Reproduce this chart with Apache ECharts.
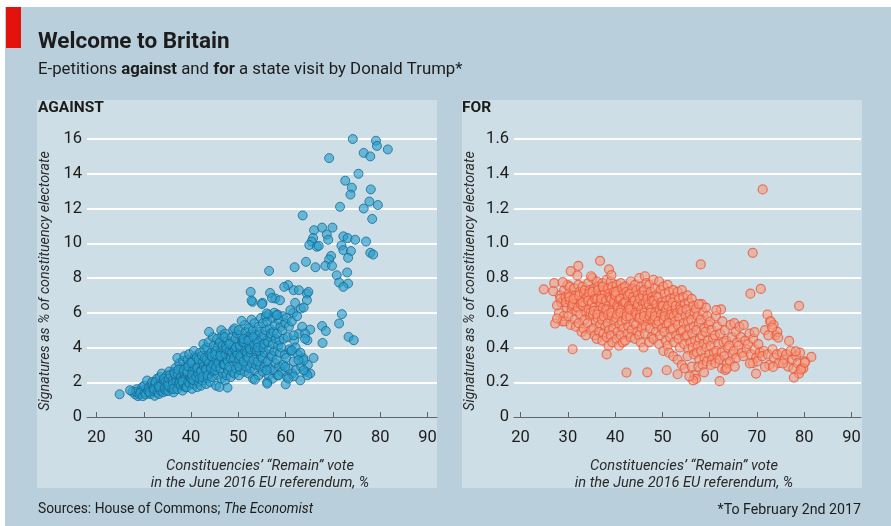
<!DOCTYPE html>
<html><head><meta charset="utf-8">
<script src="https://cdn.jsdelivr.net/npm/echarts@6/dist/echarts.min.js"></script>
<style>html,body{margin:0;padding:0;background:#fff}#c{width:891px;height:526px}</style>
</head><body><div id="c"></div><script>
const xTicks=[20,30,40,50,60,70,80,90];
const againstTicks=[0,2,4,6,8,10,12,14,16];
const forTicks=[0,0.2,0.4,0.6,0.8,1.0,1.2,1.4,1.6];

// AGAINST: [Remain vote %, signatures as % of electorate]
const againstSparse=[[74.2,16.0],[79.1,15.9],[79.3,15.6],[81.6,15.4],[69.2,14.9],[76.5,15.2],[77.9,15.0],[75.4,14.0],[72.6,13.6],[74.0,13.2],[73.7,12.8],[78.0,13.1],[71.5,12.1],[76.5,12.0],[77.7,12.4],[79.5,12.2],[78.3,11.4],[63.6,11.6],[67.7,10.9],[69.9,10.9],[66.0,10.75],[68.7,10.5],[65.8,10.3],[69.0,10.2],[72.2,10.4],[73.1,10.3],[74.7,10.2],[77.0,10.1],[65.5,10.1],[65.0,9.9],[66.6,9.8],[67.0,9.85],[71.8,9.87],[72.2,9.6],[73.8,9.55],[77.9,9.45],[78.5,9.35],[69.6,9.27],[69.2,9.07],[73.2,9.16],[64.3,8.93],[68.4,8.7],[69.8,8.7],[66.3,8.62],[61.9,8.62],[56.5,8.41],[73.0,8.32],[70.8,8.16],[71.3,7.74],[73.2,7.68],[72.2,7.49],
[52.6,7.2],[56.7,7.14],[60.5,7.59],[59.7,7.49],[61.7,7.3],[62.8,7.3],[64.5,7.1],[64.8,7.2],[53.0,6.63],[55.1,6.57],[57.8,6.82],[58.8,6.72],[62.0,6.57],[63.2,6.24],[64.5,6.72],[52.8,6.7],[55.0,6.5],[57.1,6.85],[61.0,6.15],[58.1,5.86],[56.0,5.96],[50.7,5.53],[63.8,6.3],
[71.9,5.92],[71.3,5.38],[67.7,5.24],[68.5,4.95],[67.8,4.26],[65.2,5.03],[64.1,4.8],[64.6,4.42],[73.3,4.61],[74.4,4.42],[65.9,3.4],[63.8,3.27],[64.6,2.4],[63.1,2.11],[61.7,2.34],[60.0,1.88],[60.6,2.21],[56.1,1.92],[53.5,2.15],[47.7,1.69],[46.0,1.73],[24.9,1.31],[27.1,1.54],[61.7,4.7],[61.3,3.84],[62.7,3.27],[63.8,2.69],[59.9,2.88],[58.5,2.4],[56.0,2.69],[64.1,4.5]];
const againstDense=[[27.6,1.45],[28.2,1.3],[28.5,1.6],[28.8,1.2],[28.4,1.45],[29.1,1.3],[29.4,1.5],[29.7,1.72],[29.3,1.4],[29.8,1.2],
[30.2,1.4],[30.5,1.62],[30.1,1.8],[30.7,2.1],[30.4,1.3],[30.9,1.52],
[31.3,1.5],[31.1,1.7],[31.6,1.9],[31.8,2.02],[31.4,1.32],[31.9,1.62],[31.2,1.42],
[32.3,1.22],[32.1,1.5],[32.6,1.7],[32.4,1.92],[32.8,2.2],[32.2,1.62],[32.9,1.4],[32.5,2.02],
[33.2,1.32],[33.5,1.6],[33.1,1.8],[33.7,2.0],[33.4,2.3],[33.8,2.5],[33.6,1.5],[33.3,1.72],
[34.1,1.42],[34.4,1.6],[34.7,1.9],[34.2,2.1],[34.9,2.4],[34.5,1.72],[34.3,2.22],[34.8,1.5],[34.6,2.02],
[35.2,1.5],[35.5,1.72],[35.1,2.0],[35.8,2.3],[35.4,2.62],[35.7,1.9],[35.3,2.2],[35.9,1.6],[35.6,2.42],[35.2,1.82],
[36.3,1.42],[36.6,1.8],[36.1,2.1],[36.8,2.32],[36.4,2.6],[36.7,2.82],[36.2,1.92],[36.9,2.02],[36.5,2.5],[36.3,1.62],
[37.1,1.6],[37.4,1.92],[37.7,2.2],[37.2,2.5],[37.8,2.8],[37.5,3.1],[37.1,3.4],[37.6,2.02],[37.9,2.32],[37.3,2.72],[37.8,1.8],
[38.2,1.52],[38.5,1.8],[38.1,2.12],[38.7,2.4],[38.4,2.6],[38.9,2.92],[38.3,3.22],[38.6,3.5],[38.8,2.22],[38.2,2.02],[38.5,2.72],[38.9,1.7],
[39.1,1.72],[39.4,2.0],[39.7,2.3],[39.2,2.52],[39.8,2.8],[39.5,3.02],[39.3,3.3],[39.6,3.62],[39.9,2.22],[39.2,2.62],[39.7,1.92],[39.4,2.92],
[40.2,1.62],[40.5,1.9],[40.1,2.2],[40.8,2.5],[40.4,2.72],[40.7,3.0],[40.3,3.22],[40.9,3.5],[40.6,3.8],[40.2,2.42],[40.8,2.82],[40.5,2.12],[40.1,3.12],
[41.3,1.72],[41.6,2.02],[41.1,2.3],[41.8,2.6],[41.4,2.9],[41.7,3.12],[41.2,3.42],[41.9,3.7],[41.5,2.52],[41.3,2.82],[41.8,2.22],[41.6,3.3],
[42.1,1.8],[42.4,2.1],[42.7,2.42],[42.2,2.7],[42.9,3.02],[42.5,3.2],[42.3,3.52],[42.8,3.9],[42.6,4.2],[42.1,2.62],[42.7,2.92],[42.4,2.3],[42.9,3.4],
[43.2,1.9],[43.5,2.22],[43.8,2.5],[43.1,2.8],[43.6,3.02],[43.3,3.3],[43.9,3.62],[43.4,4.0],[43.7,4.3],[43.2,2.72],[43.8,3.12],[43.5,2.4],
[44.1,2.0],[44.4,2.3],[44.7,2.62],[44.2,2.9],[44.9,3.2],[44.5,3.42],[44.3,3.7],[44.8,4.1],[44.6,4.6],[43.8,4.9],[44.2,2.8],[44.7,3.02],[44.4,3.5],
[45.3,1.8],[45.6,2.42],[45.1,2.7],[45.8,3.0],[45.4,3.3],[45.7,3.5],[45.2,3.8],[45.9,4.2],[45.5,4.5],[45.3,2.9],[45.8,3.12],[45.1,3.6],[45.6,4.02],
[46.4,2.2],[46.7,2.52],[46.2,2.8],[46.9,3.1],[46.5,3.4],[46.3,3.72],[46.8,3.9],[46.1,4.3],[46.6,4.7],[46.4,5.0],[46.9,3.02],[46.2,3.52],[46.7,4.1],
[47.2,2.1],[47.5,2.4],[47.8,2.7],[47.1,3.02],[47.6,3.3],[47.3,3.6],[47.9,3.82],[47.4,4.1],[47.7,4.4],[47.2,4.8],[47.8,3.2],[47.5,3.92],[47.1,4.6],
[48.4,2.3],[48.7,2.6],[48.1,2.9],[48.9,3.2],[48.5,3.5],[48.2,3.8],[48.8,4.0],[48.3,4.3],[48.6,4.6],[48.9,5.0],[48.4,3.4],[48.1,4.2],[48.7,3.7],
[49.2,2.5],[49.5,2.8],[49.8,3.1],[49.1,3.4],[49.6,3.7],[49.3,3.9],[49.9,4.2],[49.4,4.5],[49.7,4.8],[49.2,5.1],[49.8,3.6],[49.5,4.02],
[50.1,2.4],[50.4,2.7],[50.7,3.0],[50.2,3.3],[50.9,3.6],[50.5,3.9],[50.3,4.1],[50.8,4.4],[50.6,4.7],[50.1,5.0],[50.4,3.5],[50.9,4.3],[50.2,2.9],
[51.3,2.6],[51.6,2.9],[51.1,3.2],[51.8,3.5],[51.4,3.8],[51.7,4.0],[51.2,4.3],[51.9,4.6],[51.5,4.9],[51.3,5.3],[51.8,3.7],[51.1,4.5],
[52.2,2.5],[52.5,2.8],[52.8,3.1],[52.1,3.4],[52.6,3.7],[52.3,4.0],[52.9,4.2],[52.4,4.5],[52.7,4.8],[52.2,5.1],[52.8,5.6],[52.5,3.9],[52.1,4.4],
[53.1,2.2],[53.4,2.7],[53.7,3.0],[53.2,3.3],[53.9,3.6],[53.5,3.9],[53.3,4.2],[53.8,4.4],[53.6,4.7],[53.1,5.0],[53.4,5.4],[53.9,3.8],[53.2,4.6],
[54.3,2.4],[54.6,2.9],[54.1,3.2],[54.8,3.5],[54.4,3.8],[54.7,4.1],[54.2,4.3],[54.9,4.6],[54.5,4.9],[54.3,5.2],[54.8,5.7],[54.1,4.0],
[55.2,2.6],[55.5,2.9],[55.8,3.1],[55.1,3.4],[55.6,3.7],[55.3,4.0],[55.9,4.4],[55.4,4.7],[55.7,5.0],[55.2,5.4],[55.8,5.8],[55.5,4.2],
[56.1,2.0],[56.4,2.4],[56.7,2.8],[56.2,3.2],[56.9,3.6],[56.5,3.9],[56.3,4.3],[56.8,4.6],[56.6,5.1],[56.1,5.5],[56.4,5.9],[56.9,4.8],
[57.2,2.2],[57.5,2.7],[57.8,3.1],[57.1,3.5],[57.6,3.8],[57.3,4.2],[57.9,4.5],[57.4,4.9],[57.7,5.3],[57.2,5.7],[57.6,6.0],
[58.3,2.4],[58.6,2.9],[58.1,3.3],[58.8,3.7],[58.4,4.1],[58.7,4.4],[58.2,4.8],[58.9,5.2],[58.5,5.6],[58.3,5.9],
[59.2,2.6],[59.5,3.0],[59.8,3.6],[59.1,4.0],[59.6,4.5],[59.3,5.0],[59.9,5.4],[59.4,5.8],
[60.3,2.3],[60.6,2.8],[60.1,3.4],[60.8,3.9],[60.4,4.6],[60.7,5.2],[60.2,5.7],
[61.4,2.5],[61.7,3.2],[61.1,3.8],[61.8,4.4],[61.3,5.5],[61.6,6.0],
[62.2,2.7],[62.6,3.6],[62.1,4.0],[62.8,4.8],[62.4,5.8],
[63.3,2.9],[63.7,3.4],[63.1,3.7],[63.5,5.2],[64.3,2.6],[64.7,3.0],[65.2,2.5]];

// FOR: [Remain vote %, signatures as % of electorate]
const forSparse=[[71.2,1.31],[69.1,0.945],[58.1,0.878],[36.8,0.899],[32.2,0.87],[30.6,0.84],[32.0,0.815],[38.7,0.85],[39.2,0.816],[34.9,0.81],[24.9,0.735],[27.1,0.77],[28.9,0.776],[26.9,0.724],[27.7,0.643],[27.3,0.538],[27.7,0.567],[31.0,0.39],[42.4,0.256],[46.8,0.257],[38.2,0.36],[68.6,0.71],[70.8,0.737],[78.9,0.64],[81.5,0.346],[72.2,0.59],[72.9,0.551],[69.5,0.488],[71.7,0.5],[72.4,0.47],[74.5,0.457],[76.8,0.438],[73.2,0.515],[69.8,0.25],[77.8,0.227],[79.3,0.273],[80.1,0.313],[78.2,0.378],[75.5,0.308],[56.5,0.211],[62.1,0.206],[58.8,0.257],[53.2,0.246],[50.9,0.269],[68.5,0.308],[71.7,0.288],[73.4,0.288],[63.6,0.279],[55.7,0.234],[61.4,0.615],[57.7,0.65]];
const forDense=[[28.3,0.70],[28.6,0.66],[28.1,0.60],[28.8,0.55],[28.4,0.68],
[29.2,0.73],[29.5,0.69],[29.8,0.63],[29.1,0.58],[29.6,0.66],[29.3,0.55],[29.9,0.76],
[30.2,0.71],[30.5,0.67],[30.8,0.62],[30.1,0.58],[30.6,0.53],[30.3,0.69],[30.9,0.64],[30.4,0.75],
[31.3,0.74],[31.6,0.70],[31.1,0.65],[31.8,0.61],[31.4,0.56],[31.7,0.52],[31.2,0.68],
[32.2,0.76],[32.5,0.72],[32.8,0.67],[32.1,0.63],[32.6,0.59],[32.3,0.54],[32.9,0.49],[32.4,0.70],[32.7,0.65],
[33.1,0.75],[33.4,0.71],[33.7,0.68],[33.2,0.64],[33.9,0.60],[33.5,0.56],[33.3,0.51],[33.8,0.47],[33.6,0.73],[33.1,0.66],
[34.3,0.77],[34.6,0.73],[34.1,0.69],[34.8,0.65],[34.4,0.62],[34.7,0.58],[34.2,0.54],[34.9,0.50],[34.5,0.71],[34.3,0.67],[34.8,0.60],
[35.2,0.80],[35.5,0.74],[35.8,0.70],[35.1,0.66],[35.6,0.63],[35.3,0.59],[35.9,0.55],[35.4,0.51],[35.7,0.47],[35.2,0.72],[35.8,0.68],[35.5,0.61],
[36.1,0.78],[36.4,0.75],[36.7,0.71],[36.2,0.68],[36.9,0.64],[36.5,0.61],[36.3,0.57],[36.8,0.53],[36.6,0.49],[36.1,0.45],[36.4,0.73],[36.9,0.66],[36.2,0.59],
[37.3,0.77],[37.6,0.73],[37.1,0.70],[37.8,0.66],[37.4,0.63],[37.7,0.60],[37.2,0.56],[37.9,0.52],[37.5,0.48],[37.3,0.44],[37.8,0.71],[37.1,0.68],[37.6,0.58],[37.4,0.75],
[38.2,0.79],[38.5,0.74],[38.8,0.71],[38.1,0.67],[38.6,0.64],[38.3,0.61],[38.9,0.57],[38.4,0.54],[38.7,0.50],[38.2,0.46],[38.6,0.41],[38.9,0.69],[38.1,0.62],[38.5,0.59],
[39.1,0.78],[39.4,0.75],[39.7,0.72],[39.2,0.68],[39.9,0.65],[39.5,0.62],[39.3,0.58],[39.8,0.55],[39.6,0.51],[39.1,0.47],[39.4,0.43],[39.9,0.70],[39.2,0.60],[39.7,0.66],
[40.3,0.76],[40.6,0.73],[40.1,0.70],[40.8,0.67],[40.4,0.64],[40.7,0.61],[40.2,0.57],[40.9,0.53],[40.5,0.49],[40.3,0.45],[40.8,0.41],[40.1,0.72],[40.6,0.63],[40.4,0.59],
[41.2,0.77],[41.5,0.74],[41.8,0.71],[41.1,0.68],[41.6,0.65],[41.3,0.62],[41.9,0.59],[41.4,0.55],[41.7,0.51],[41.2,0.47],[41.6,0.43],[41.9,0.66],[41.1,0.60],
[42.1,0.75],[42.4,0.72],[42.7,0.69],[42.2,0.66],[42.9,0.63],[42.5,0.60],[42.3,0.56],[42.8,0.52],[42.6,0.48],[42.1,0.44],[42.7,0.70],[42.4,0.58],[42.9,0.64],
[43.3,0.78],[43.6,0.74],[43.1,0.71],[43.8,0.67],[43.4,0.64],[43.7,0.61],[43.2,0.58],[43.9,0.54],[43.5,0.50],[43.3,0.46],[43.8,0.69],[43.1,0.62],
[44.2,0.76],[44.5,0.73],[44.8,0.70],[44.1,0.67],[44.6,0.63],[44.3,0.60],[44.9,0.57],[44.4,0.53],[44.7,0.49],[44.2,0.45],[44.8,0.65],[44.5,0.59],
[45.1,0.80],[45.4,0.75],[45.7,0.72],[45.2,0.68],[45.9,0.65],[45.5,0.62],[45.3,0.59],[45.8,0.55],[45.6,0.51],[45.1,0.47],[45.4,0.43],[45.9,0.70],[45.2,0.57],
[46.3,0.81],[46.6,0.77],[46.1,0.73],[46.8,0.70],[46.4,0.66],[46.7,0.63],[46.2,0.60],[46.9,0.56],[46.5,0.52],[46.3,0.48],[46.0,0.40],[46.8,0.68],[46.1,0.58],
[47.2,0.76],[47.5,0.72],[47.8,0.69],[47.1,0.65],[47.6,0.62],[47.3,0.58],[47.9,0.55],[47.4,0.51],[47.7,0.46],[47.2,0.43],[47.8,0.67],[47.5,0.60],
[48.1,0.79],[48.4,0.74],[48.7,0.70],[48.2,0.67],[48.9,0.63],[48.5,0.60],[48.3,0.56],[48.8,0.53],[48.6,0.49],[48.1,0.45],[48.7,0.65],[48.4,0.58],
[49.3,0.78],[49.6,0.73],[49.1,0.69],[49.8,0.66],[49.4,0.62],[49.7,0.59],[49.2,0.55],[49.9,0.51],[49.5,0.47],[49.3,0.42],[49.8,0.64],
[50.2,0.75],[50.5,0.71],[50.8,0.67],[50.1,0.64],[50.6,0.60],[50.3,0.56],[50.9,0.53],[50.4,0.49],[50.7,0.44],[50.2,0.38],[50.8,0.62],[50.5,0.58],
[51.1,0.76],[51.4,0.72],[51.7,0.68],[51.2,0.64],[51.9,0.61],[51.5,0.57],[51.3,0.54],[51.8,0.50],[51.6,0.46],[51.1,0.41],[51.4,0.37],[51.9,0.59],
[52.3,0.73],[52.6,0.69],[52.1,0.66],[52.8,0.62],[52.4,0.58],[52.7,0.55],[52.2,0.51],[52.9,0.47],[52.5,0.43],[52.3,0.35],[52.8,0.64],
[53.2,0.72],[53.5,0.68],[53.8,0.64],[53.1,0.60],[53.6,0.57],[53.3,0.53],[53.9,0.49],[53.4,0.45],[53.7,0.40],[53.2,0.33],[53.8,0.62],
[54.1,0.73],[54.4,0.69],[54.7,0.65],[54.2,0.61],[54.9,0.58],[54.5,0.54],[54.3,0.50],[54.8,0.46],[54.6,0.42],[54.1,0.30],[54.7,0.28],
[55.3,0.70],[55.6,0.66],[55.1,0.62],[55.8,0.59],[55.4,0.55],[55.7,0.51],[55.2,0.47],[55.9,0.43],[55.5,0.39],[55.3,0.35],
[56.2,0.68],[56.5,0.64],[56.8,0.60],[56.1,0.56],[56.6,0.52],[56.3,0.48],[56.9,0.44],[56.4,0.40],[56.7,0.36],[56.2,0.29],[56.8,0.24],
[57.1,0.62],[57.4,0.58],[57.7,0.54],[57.2,0.50],[57.9,0.45],[57.5,0.41],[57.3,0.37],[57.8,0.33],[57.6,0.29],[57.1,0.22],
[58.3,0.65],[58.6,0.60],[58.1,0.56],[58.8,0.51],[58.4,0.47],[58.7,0.42],[58.2,0.38],[58.9,0.34],[58.5,0.30],
[59.2,0.63],[59.5,0.58],[59.8,0.53],[59.1,0.49],[59.6,0.44],[59.3,0.40],[59.9,0.36],[59.4,0.32],
[60.1,0.55],[60.4,0.50],[60.7,0.45],[60.2,0.41],[60.9,0.37],[60.5,0.33],[60.3,0.30],
[61.3,0.58],[61.6,0.52],[61.1,0.47],[61.8,0.42],[61.4,0.38],[61.7,0.34],[61.2,0.31],
[62.4,0.62],[62.7,0.55],[62.2,0.48],[62.9,0.43],[62.5,0.37],[62.1,0.33],[62.6,0.28],
[63.2,0.50],[63.5,0.44],[63.8,0.40],[63.1,0.35],[63.6,0.31],[63.3,0.27],
[64.4,0.53],[64.7,0.46],[64.1,0.41],[64.8,0.36],[64.3,0.32],
[65.2,0.54],[65.5,0.49],[65.8,0.43],[65.1,0.38],[65.6,0.34],[65.3,0.29],
[66.3,0.52],[66.6,0.46],[66.1,0.41],[66.8,0.37],
[67.2,0.53],[67.5,0.44],[67.8,0.39],[67.1,0.35],
[68.4,0.48],[68.1,0.42],[68.7,0.36],
[69.2,0.45],[69.5,0.39],[69.8,0.34],[69.1,0.31],
[70.3,0.42],[70.6,0.37],[70.1,0.32],
[71.4,0.38],[71.1,0.35],
[72.3,0.36],[72.6,0.30],[72.8,0.55],
[73.3,0.39],[73.6,0.34],[73.5,0.53],[73.9,0.47],
[74.2,0.36],[74.6,0.31],[74.3,0.49],
[75.3,0.37],[75.8,0.33],[76.2,0.36],[76.6,0.29],
[77.1,0.38],[77.4,0.33],[77.7,0.28],[78.3,0.35],[78.6,0.31],
[79.1,0.37],[79.4,0.28],[78.9,0.25],[80.2,0.32],[79.8,0.28]];

const FONT='Roboto, "Open Sans", sans-serif';
const INK='#1c1c1c';
function mkX(i,min,max){return{gridIndex:i,type:'value',min:min,max:max,
  axisLine:{show:true,onZero:false,lineStyle:{color:'#5c666c',width:1.2}},
  axisTick:{show:true,inside:true,length:5,customValues:xTicks,lineStyle:{color:'#5c666c',width:1}},
  axisLabel:{customValues:xTicks,fontSize:16.5,color:INK,margin:12,fontFamily:FONT},
  splitLine:{show:false}};}
function mkY(i,ticks,fmt){return{gridIndex:i,type:'value',min:ticks[0],max:ticks[ticks.length-1],interval:ticks[1]-ticks[0],
  axisLine:{show:false},axisTick:{show:false},
  axisLabel:{fontSize:16.5,color:INK,margin:5,fontFamily:FONT,formatter:fmt},
  splitLine:{show:true,showMinLine:false,lineStyle:{color:'#ffffff',width:2}}};}

const chart=echarts.init(document.getElementById('c'));
chart.setOption({
  animation:false,
  backgroundColor:'transparent',
  textStyle:{fontFamily:FONT},
  grid:[{left:87,top:139,width:350,height:278},{left:514,top:139,width:347,height:278}],
  xAxis:[mkX(0,18,92),mkX(1,18.6,92)],
  yAxis:[mkY(0,againstTicks,v=>String(v)),mkY(1,forTicks,v=>v===0?'0':v.toFixed(1))],
  series:[
    {type:'scatter',xAxisIndex:0,yAxisIndex:0,clip:false,symbolSize:9,data:againstDense.concat(againstSparse),
     itemStyle:{color:'rgba(40,158,206,0.78)',borderColor:'#176991',borderWidth:1}},
    {type:'scatter',xAxisIndex:1,yAxisIndex:1,clip:false,symbolSize:9,data:forDense.concat(forSparse),
     itemStyle:{color:'rgba(247,152,124,0.72)',borderColor:'#ea5a3c',borderWidth:1.2}}
  ],
  graphic:[
    {type:'rect',z:-30,silent:true,shape:{x:5,y:7,width:886,height:519},style:{fill:'#b9d0dc'}},
    {type:'rect',z:-20,silent:true,shape:{x:37,y:100,width:400,height:388},style:{fill:'#cddee6'}},
    {type:'rect',z:-20,silent:true,shape:{x:462,y:100,width:400,height:388},style:{fill:'#cddee6'}},
    {type:'rect',z:10,silent:true,shape:{x:6,y:7,width:15,height:41},style:{fill:'#e3120b'}},
    {type:'text',z:10,x:38,y:42,style:{text:'Welcome to Britain',fontFamily:FONT,fontSize:22.5,fontWeight:'bold',fill:INK,verticalAlign:'middle'}},
    {type:'text',z:10,x:38,y:70,style:{text:'E-petitions {b|against} and {b|for} a state visit by Donald Trump*',fontFamily:FONT,fontSize:16.8,fill:INK,verticalAlign:'middle',
      rich:{b:{fontFamily:FONT,fontSize:16.8,fontWeight:'bold',fill:INK}}}},
    {type:'text',z:10,x:38,y:108,style:{text:'AGAINST',fontFamily:FONT,fontSize:15.5,fontWeight:'bold',fill:INK,verticalAlign:'middle'}},
    {type:'text',z:10,x:462,y:108,style:{text:'FOR',fontFamily:FONT,fontSize:15.5,fontWeight:'bold',fill:INK,verticalAlign:'middle'}},
    {type:'text',z:10,x:45,y:281,rotation:Math.PI/2,style:{text:'Signatures as % of constituency electorate',fontFamily:FONT,fontSize:14.2,fontStyle:'italic',fill:'#2a2a2a',align:'center',verticalAlign:'middle'}},
    {type:'text',z:10,x:470,y:281,rotation:Math.PI/2,style:{text:'Signatures as % of constituency electorate',fontFamily:FONT,fontSize:14.2,fontStyle:'italic',fill:'#2a2a2a',align:'center',verticalAlign:'middle'}},
    {type:'text',z:10,x:260,y:475,style:{text:'Constituencies\u2019 \u201cRemain\u201d vote\nin the June 2016 EU referendum, %',fontFamily:FONT,fontSize:14.6,fontStyle:'italic',lineHeight:17.5,fill:'#2a2a2a',align:'center',verticalAlign:'middle'}},
    {type:'text',z:10,x:684,y:475,style:{text:'Constituencies\u2019 \u201cRemain\u201d vote\nin the June 2016 EU referendum, %',fontFamily:FONT,fontSize:14.6,fontStyle:'italic',lineHeight:17.5,fill:'#2a2a2a',align:'center',verticalAlign:'middle'}},
    {type:'text',z:10,x:38,y:510,style:{text:'Sources: House of Commons; {i|The Economist}',fontFamily:FONT,fontSize:13.8,fill:INK,verticalAlign:'middle',
      rich:{i:{fontFamily:FONT,fontSize:13.8,fontStyle:'italic',fill:INK}}}},
    {type:'text',z:10,x:861,y:510,style:{text:'*To February 2nd 2017',fontFamily:FONT,fontSize:14.2,fill:INK,align:'right',verticalAlign:'middle'}}
  ]
});
</script></body></html>
